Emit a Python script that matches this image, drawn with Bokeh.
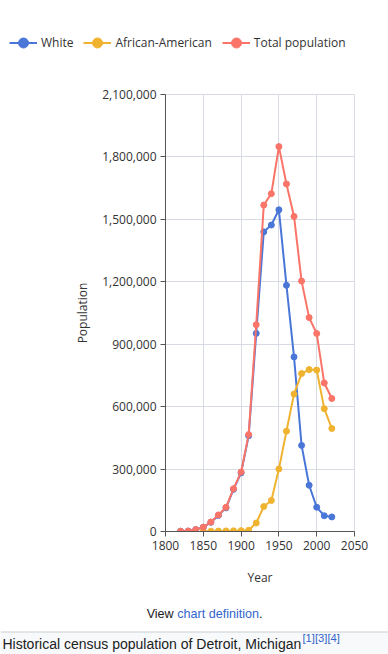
from bokeh.plotting import figure
from bokeh.models import (ColumnDataSource, FixedTicker, NumeralTickFormatter,
                          Legend, LegendItem, Range1d)
from bokeh.layouts import column
from bokeh.embed import file_html
from bokeh.resources import INLINE
from bokeh.core.properties import value

# ---------------- data ----------------
years = [1820, 1830, 1840, 1850, 1860, 1870, 1880, 1890, 1900, 1910, 1920,
         1930, 1940, 1950, 1960, 1970, 1980, 1990, 2000, 2010, 2020]
total_pop = [1422, 2222, 9102, 21019, 45619, 79577, 116340, 205876, 285704,
             465766, 993678, 1568662, 1623452, 1849568, 1670144, 1514063,
             1203368, 1027974, 951270, 713777, 639111]
white_pop = [1390, 2160, 8910, 20432, 44216, 77342, 113519, 202445, 281575,
             459926, 952065, 1440141, 1472662, 1545847, 1182970, 838877,
             413730, 222316, 116599, 75758, 70000]
aa_years = [1850, 1860, 1870, 1880, 1890, 1900, 1910, 1920, 1930, 1940, 1950,
            1960, 1970, 1980, 1990, 2000, 2010, 2020]
aa_pop = [587, 1403, 2235, 2821, 3431, 4111, 5741, 40838, 120066, 149119,
          300506, 482223, 660428, 758939, 777916, 775772, 590226, 495000]

series_names = ["White", "African-American", "Total population"]
colors = ["#4a76d8", "#f0b330", "#fa7468"]
x_ticks = [1800, 1850, 1900, 1950, 2000, 2050]
y_ticks = [0, 300000, 600000, 900000, 1200000, 1500000, 1800000, 2100000]
x_label = "Year"
y_label = "Population"
caption = "Historical census population of Detroit, Michigan"
refs = "[1][3][4]"

FONT = "Open Sans"
W = 388
TEXT = "#333333"
GRID = "#d9dbe4"

# ---------------- legend strip ----------------
TOP_H = 60
top = figure(width=W, height=TOP_H, x_range=Range1d(0, W), y_range=Range1d(0, TOP_H),
             output_backend="svg", toolbar_location=None, min_border=0,
             x_axis_location=None, y_axis_location=None, outline_line_color=None,
             frame_align=False)
top.grid.visible = False
items = []
for name, c in zip(series_names, colors):
    # off-canvas sample marks: only their legend swatches are visible
    lr = top.line(x=[-100, -90], y=[-100, -100], line_color=c, line_width=2)
    sr = top.scatter(x=[-100], y=[-100], marker="circle", fill_color=c, line_color=c)
    items.append(LegendItem(label=name, renderers=[lr, sr]))
legend = Legend(items=items, orientation="horizontal", location=(9, TOP_H - 54.5),
                padding=0, margin=0, spacing=10, glyph_width=28, glyph_height=25,
                label_standoff=4, label_text_font=FONT, label_text_font_size="12px",
                label_text_color=TEXT, border_line_alpha=0, background_fill_alpha=0)
top.add_layout(legend)

# ---------------- main chart ----------------
MAIN_H = 540
p = figure(width=W, height=MAIN_H, x_range=Range1d(1800, 2050),
           y_range=Range1d(0, 2100000), output_backend="svg",
           toolbar_location=None, min_border_left=165, min_border_right=34,
           min_border_top=34, min_border_bottom=69, outline_line_color=GRID,
           frame_align=False)

data = [(years, white_pop), (aa_years, aa_pop), (years, total_pop)]
for (xs, ys), c in zip(data, colors):
    src = ColumnDataSource(dict(x=xs, y=ys))
    p.line("x", "y", source=src, line_color=c, line_width=2)
    p.scatter("x", "y", source=src, marker="circle", size=6, fill_color=c, line_color=c)

p.xaxis.ticker = FixedTicker(ticks=x_ticks)
p.yaxis.ticker = FixedTicker(ticks=y_ticks)
p.yaxis.formatter = NumeralTickFormatter(format="0,0")
p.xaxis.axis_label = x_label
p.yaxis.axis_label = y_label
for ax in (p.xaxis, p.yaxis):
    ax.axis_line_color = "#555555"
    ax.major_tick_line_color = "#555555"
    ax.major_tick_out = 5
    ax.major_tick_in = 0
    ax.minor_tick_line_color = None
    ax.major_label_text_font = FONT
    ax.major_label_text_font_size = "12px"
    ax.major_label_text_color = TEXT
    ax.axis_label_text_font = FONT
    ax.axis_label_text_font_size = "12px"
    ax.axis_label_text_font_style = "normal"
    ax.axis_label_text_color = TEXT
p.xaxis.major_label_standoff = 4
p.yaxis.major_label_standoff = 4
p.xaxis.axis_label_standoff = 16
p.yaxis.axis_label_standoff = 8
p.grid.grid_line_color = GRID
p.grid.grid_line_width = 1

# ---------------- footer ----------------
FOOT_H = 54
f = figure(width=W, height=FOOT_H, x_range=Range1d(0, W), y_range=Range1d(0, FOOT_H),
           output_backend="svg", toolbar_location=None, min_border=0,
           x_axis_location=None, y_axis_location=None, outline_line_color=None,
           frame_align=False)
f.grid.visible = False
f.quad(left=0, right=W, bottom=0, top=22, fill_color="#f8f9fa", line_color=None)
f.segment(x0=0, y0=22.5, x1=W, y1=22.5, line_color="#c8ccd1", line_width=1)
LS = value("Liberation Sans")
f.text(x=[173.2], y=[41], text=["View"], text_font=LS, text_font_size="12.6px",
       text_color="#202122", text_align="right", text_baseline="alphabetic")
f.text(x=[176.7], y=[41], text=["chart definition"], text_font=LS,
       text_font_size="12.6px", text_color="#3366cc", text_align="left",
       text_baseline="alphabetic")
f.text(x=[258.6], y=[41], text=["."], text_font=LS, text_font_size="12.6px",
       text_color="#202122", text_align="left", text_baseline="alphabetic")
f.text(x=[2], y=[11], text=[caption], text_font=LS, text_font_size="14px",
       text_color="#202122", text_align="left", text_baseline="alphabetic")
f.text(x=[302], y=[17], text=[refs], text_font=LS, text_font_size="11.2px",
       text_color="#3366cc", text_align="left", text_baseline="alphabetic")

layout = column(top, p, f, spacing=0)
open("out.html", "w").write(file_html(layout, INLINE))
